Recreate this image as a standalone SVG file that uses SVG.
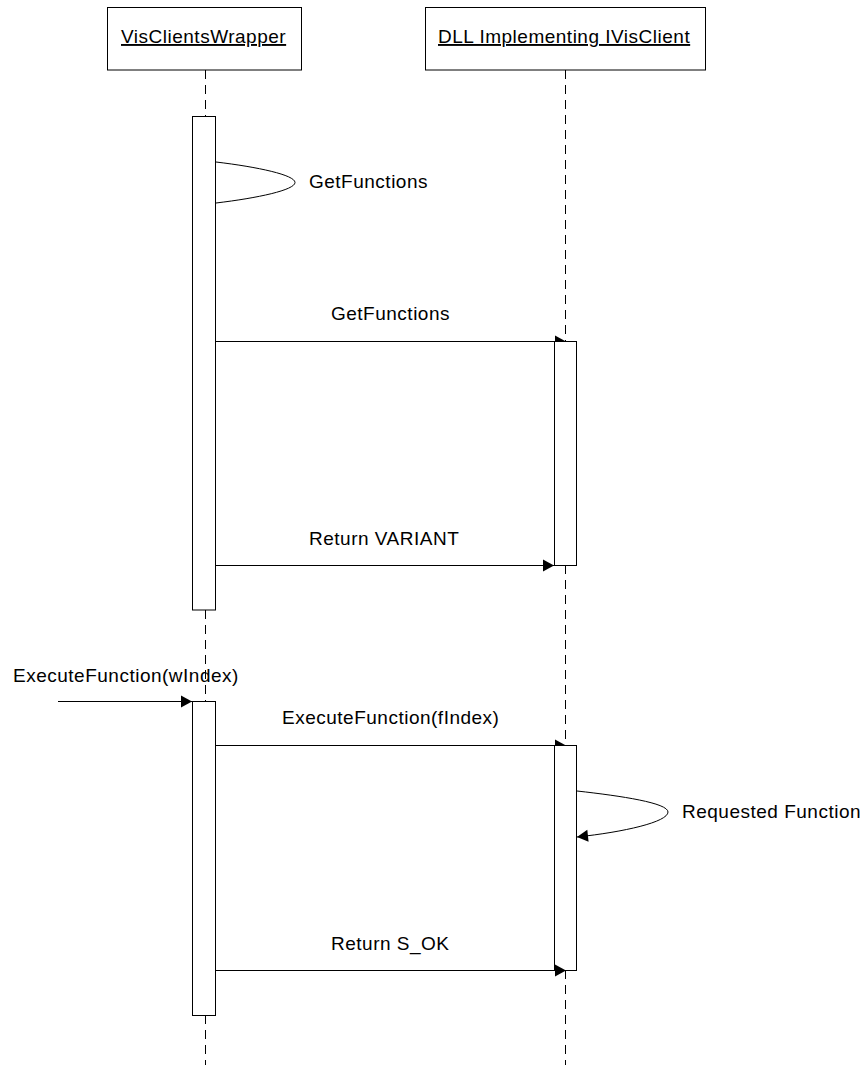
<svg xmlns="http://www.w3.org/2000/svg" width="864" height="1065" viewBox="0 0 864 1065">
  <style>
    .box { fill: #ffffff; stroke: #000000; stroke-width: 1; }
    .life { stroke: #000000; stroke-width: 1; stroke-dasharray: 9 6; fill: none; }
    .msg { stroke: #000000; stroke-width: 1; fill: none; }
    .lbl { font-family: "Liberation Sans", Arial, sans-serif; font-size: 19px; letter-spacing: 0.5px; fill: #000000; }
    .title { text-decoration: underline; }
  </style>
  <defs>
    <!-- filled arrowhead -->
    <marker id="head" markerUnits="userSpaceOnUse" markerWidth="11" markerHeight="12" refX="11" refY="6" orient="auto" overflow="visible">
      <path d="M0,0 L11,6 L0,12 Z" fill="#000000"/>
    </marker>
    <!-- arrowhead whose lower half sits behind an activation bar -->
    <marker id="halfhead" markerUnits="userSpaceOnUse" markerWidth="11" markerHeight="12" refX="11" refY="6" orient="auto" overflow="visible">
      <path d="M0,0 L11,6 L0,6 Z" fill="#000000"/>
    </marker>
  </defs>

  <rect width="864" height="1065" fill="#ffffff"/>

  <!-- participant: VisClientsWrapper -->
  <g id="visclientswrapper">
    <line class="life" x1="205.5" y1="70" x2="205.5" y2="1065"/>
    <rect class="box" x="107.5" y="7.5" width="194" height="62.5"/>
    <text class="lbl title" x="121" y="43">VisClientsWrapper</text>
  </g>

  <!-- participant: DLL Implementing IVisClient -->
  <g id="dll">
    <line class="life" x1="565.5" y1="70" x2="565.5" y2="1065"/>
    <rect class="box" x="425.5" y="7.5" width="280" height="62.5"/>
    <text class="lbl title" x="438" y="43">DLL Implementing IVisClient</text>
  </g>

  <!-- activation bars -->
  <g id="act-wrapper-1"><rect class="box" x="192.5" y="116.5" width="23" height="493.5"/></g>
  <g id="act-wrapper-2"><rect class="box" x="192.5" y="701.5" width="23" height="314"/></g>
  <g id="act-dll-1"><rect class="box" x="554.5" y="341.5" width="22" height="224"/></g>
  <g id="act-dll-2"><rect class="box" x="554.5" y="745.5" width="22" height="225"/></g>

  <!-- messages -->
  <g id="connectors">
    <path class="msg" d="M216,162 C258,167 295,175 295,182.5 C295,190 258,198 216,203"/>
    <text class="lbl" x="309" y="188">GetFunctions</text>

    <line class="msg" x1="216" y1="341.5" x2="566" y2="341.5" marker-end="url(#halfhead)"/>
    <text class="lbl" x="331" y="320">GetFunctions</text>

    <line class="msg" x1="216" y1="565.5" x2="554" y2="565.5" marker-end="url(#head)"/>
    <text class="lbl" x="309" y="545">Return VARIANT</text>

    <line class="msg" x1="58" y1="701.5" x2="192" y2="701.5" marker-end="url(#head)"/>
    <text class="lbl" x="13" y="682">ExecuteFunction(wIndex)</text>

    <line class="msg" x1="216" y1="745.5" x2="566" y2="745.5" marker-end="url(#halfhead)"/>
    <text class="lbl" x="282" y="724">ExecuteFunction(fIndex)</text>

    <path class="msg" d="M577,791 C622,796 668,803 668,812 C668,822 624,832 577,837" marker-end="url(#head)"/>
    <text class="lbl" x="682" y="818">Requested Function</text>

    <line class="msg" x1="216" y1="970.5" x2="566" y2="970.5" marker-end="url(#head)"/>
    <text class="lbl" x="331" y="950">Return S_OK</text>
  </g>
</svg>
